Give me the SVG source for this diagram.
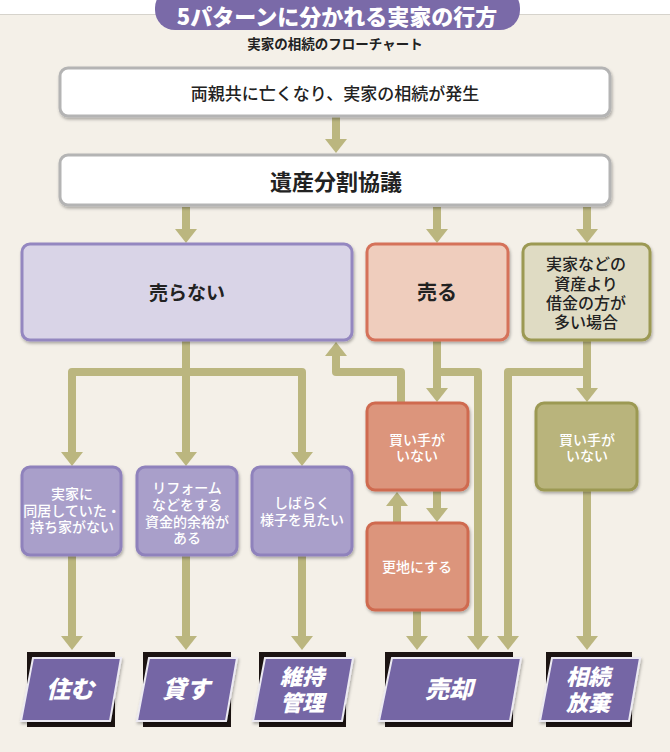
<svg xmlns="http://www.w3.org/2000/svg" width="670" height="752" viewBox="0 0 670 752">
<defs>
<style>
text{font-family:"Noto Sans CJK JP","Noto Sans",sans-serif;text-anchor:middle}
.conn{fill:none;stroke:#bbb67f;stroke-width:8;stroke-linejoin:round}
.wbox{fill:#fff;stroke:#b4b4b4;stroke-width:3}
.pbig{fill:#d9d4e7;stroke:#9487c0;stroke-width:3}
.psm{fill:#a99fca;stroke:#8f82bc;stroke-width:3}
.obig{fill:#efcdbd;stroke:#d5725a;stroke-width:3}
.osm{fill:#dc957b;stroke:#cf6b50;stroke-width:3}
.gbig{fill:#dfdbc3;stroke:#9c9953;stroke-width:3}
.gsm{fill:#b9b47c;stroke:#9c9953;stroke-width:3}
.blk{fill:#1c1412}
.par{fill:#7466a5;stroke:#eceaf2;stroke-width:2}
.dk{fill:#222;font-weight:bold}
.wt{fill:#fff;font-size:14px;font-weight:500}
.fin{fill:#fff;font-weight:900;font-style:italic}
</style>
<filter id="sh" x="-10%" y="-10%" width="130%" height="130%">
<feDropShadow dx="1" dy="2" stdDeviation="1.5" flood-color="#000" flood-opacity="0.3"/>
</filter>
<marker id="ah" markerUnits="userSpaceOnUse" markerWidth="16" markerHeight="24" viewBox="0 -12 16 24" refX="0" refY="0" orient="auto">
<path d="M0,-11 L14,0 L0,11 z" fill="#bbb67f"/>
</marker>
</defs>

<rect x="0" y="0" width="670" height="752" fill="#f4f0e8"/>
<rect x="0" y="0" width="670" height="14" fill="#ffffff"/>
<line x1="0" y1="14.5" x2="670" y2="14.5" stroke="#d6d3cc" stroke-width="1"/>

<g id="title">
<rect x="155" y="-12" width="365" height="42" rx="20" fill="#7a6aa8"/>
<text x="337" y="25" font-size="22" font-weight="900" fill="#fff">5パターンに分かれる実家の行方</text>
<text x="335" y="49" font-size="13.5" font-weight="bold" fill="#222">実家の相続のフローチャート</text>
</g>

<g id="connectors">
<path class="conn" d="M336,117 V139" marker-end="url(#ah)"/>
<path class="conn" d="M186,207 V229" marker-end="url(#ah)"/>
<path class="conn" d="M437,207 V229" marker-end="url(#ah)"/>
<path class="conn" d="M587,207 V229" marker-end="url(#ah)"/>
<path class="conn" d="M186,340 V452" marker-end="url(#ah)"/>
<path class="conn" d="M186,372 H72 V452" marker-end="url(#ah)"/>
<path class="conn" d="M186,372 H302 V452" marker-end="url(#ah)"/>
<path class="conn" d="M72,555 V636" marker-end="url(#ah)"/>
<path class="conn" d="M186,555 V636" marker-end="url(#ah)"/>
<path class="conn" d="M302,555 V636" marker-end="url(#ah)"/>
<path class="conn" d="M437,340 V388" marker-end="url(#ah)"/>
<path class="conn" d="M437,372 H478 V636" marker-end="url(#ah)"/>
<path class="conn" d="M401,403 V372 H336 V356" marker-end="url(#ah)"/>
<path class="conn" d="M587,340 V388" marker-end="url(#ah)"/>
<path class="conn" d="M587,372 H508 V636" marker-end="url(#ah)"/>
<path class="conn" d="M397,523 V506" marker-end="url(#ah)"/>
<path class="conn" d="M437,490 V508" marker-end="url(#ah)"/>
<path class="conn" d="M417,610 V636" marker-end="url(#ah)"/>
<path class="conn" d="M587,490 V636" marker-end="url(#ah)"/>
</g>

<g id="n-start">
<rect class="wbox" x="60" y="68" width="550" height="48" rx="8" filter="url(#sh)"/>
<text x="335" y="100" font-size="17" font-weight="500" fill="#222">両親共に亡くなり、実家の相続が発生</text>
</g>
<g id="n-kyogi">
<rect class="wbox" x="60" y="155" width="550" height="50" rx="8" filter="url(#sh)"/>
<text x="336" y="190" font-size="22" class="dk">遺産分割協議</text>
</g>

<g id="n-uranai">
<rect class="pbig" x="22" y="244" width="330" height="96" rx="8" filter="url(#sh)"/>
<text x="187" y="300" font-size="19" class="dk">売らない</text>
</g>
<g id="n-uru">
<rect class="obig" x="367" y="244" width="141" height="96" rx="8" filter="url(#sh)"/>
<text x="437" y="300" font-size="20" class="dk">売る</text>
</g>
<g id="n-shakkin">
<rect class="gbig" x="523" y="244" width="127" height="96" rx="8" filter="url(#sh)"/>
<text font-size="16" font-weight="500" fill="#222"><tspan x="586" y="270">実家などの</tspan><tspan x="586" y="289.5">資産より</tspan><tspan x="586" y="309">借金の方が</tspan><tspan x="586" y="328">多い場合</tspan></text>
</g>

<g id="n-doukyo">
<rect class="psm" x="22" y="467" width="99" height="88" rx="8" filter="url(#sh)"/>
<text class="wt"><tspan x="72" y="499">実家に</tspan><tspan x="72" y="516">同居していた・</tspan><tspan x="72" y="532">持ち家がない</tspan></text>
</g>
<g id="n-reform">
<rect class="psm" x="137" y="467" width="100" height="88" rx="8" filter="url(#sh)"/>
<text class="wt"><tspan x="187" y="493">リフォーム</tspan><tspan x="187" y="510">などをする</tspan><tspan x="187" y="527">資金的余裕が</tspan><tspan x="187" y="543">ある</tspan></text>
</g>
<g id="n-shibaraku">
<rect class="psm" x="252" y="467" width="100" height="88" rx="8" filter="url(#sh)"/>
<text class="wt"><tspan x="302" y="508">しばらく</tspan><tspan x="302" y="525">様子を見たい</tspan></text>
</g>

<g id="n-kaite1">
<rect class="osm" x="367" y="403" width="101" height="87" rx="8" filter="url(#sh)"/>
<text class="wt"><tspan x="417" y="445">買い手が</tspan><tspan x="417" y="461">いない</tspan></text>
</g>
<g id="n-sarachi">
<rect class="osm" x="367" y="523" width="101" height="87" rx="8" filter="url(#sh)"/>
<text class="wt" x="417" y="572">更地にする</text>
</g>
<g id="n-kaite2">
<rect class="gsm" x="536" y="403" width="101" height="87" rx="8" filter="url(#sh)"/>
<text class="wt"><tspan x="587" y="445">買い手が</tspan><tspan x="587" y="461">いない</tspan></text>
</g>

<g id="n-sumu">
<rect class="blk" x="27" y="652" width="88" height="75"/>
<polygon class="par" points="33,658 121,658 110,721 21,721" filter="url(#sh)"/>
<text class="fin" x="70" y="698" font-size="24">住む</text>
</g>
<g id="n-kasu">
<rect class="blk" x="143" y="652" width="88" height="75"/>
<polygon class="par" points="149,658 237,658 226,721 137,721" filter="url(#sh)"/>
<text class="fin" x="186" y="698" font-size="24">貸す</text>
</g>
<g id="n-iji">
<rect class="blk" x="259" y="652" width="87" height="75"/>
<polygon class="par" points="265,658 353,658 342,721 253,721" filter="url(#sh)"/>
<text class="fin" font-size="22"><tspan x="302" y="685">維持</tspan><tspan x="302" y="711">管理</tspan></text>
</g>
<g id="n-baikyaku">
<rect class="blk" x="385" y="652" width="128" height="75"/>
<polygon class="par" points="392,658 521,658 510,721 379,721" filter="url(#sh)"/>
<text class="fin" x="449" y="698" font-size="24">売却</text>
</g>
<g id="n-houki">
<rect class="blk" x="546" y="652" width="86" height="75"/>
<polygon class="par" points="552,658 640,658 629,721 540,721" filter="url(#sh)"/>
<text class="fin" font-size="22"><tspan x="588" y="685">相続</tspan><tspan x="588" y="711">放棄</tspan></text>
</g>
</svg>
